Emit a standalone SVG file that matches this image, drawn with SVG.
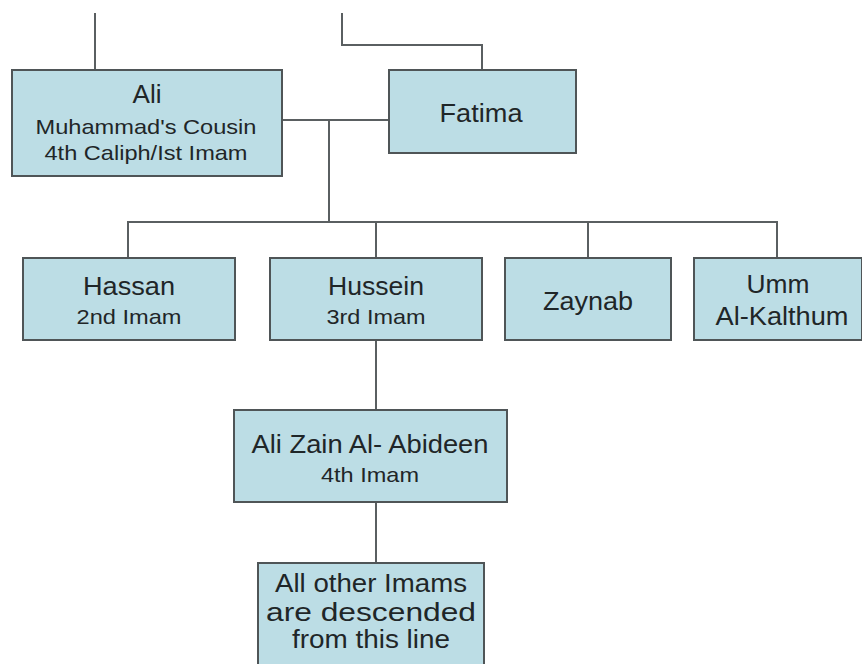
<svg xmlns="http://www.w3.org/2000/svg" width="862" height="664" viewBox="0 0 862 664">
<style>
.box{fill:#bcdde5;stroke:#4f5557;stroke-width:2}
.ln{fill:none;stroke:#5a5f61;stroke-width:2}
text{font-family:"Liberation Sans",Arial,sans-serif;fill:#1f2628;text-anchor:middle}
.t{font-size:25px}
.s{font-size:21px}
</style>
<rect width="862" height="664" fill="#ffffff"/>
<g id="connectors">
<path class="ln" d="M95 13V70"/>
<path class="ln" d="M342 13V45H482V70"/>
<path class="ln" d="M282 120H389"/>
<path class="ln" d="M329 120V222"/>
<path class="ln" d="M128 258V222H777V258"/>
<path class="ln" d="M376 222V258"/>
<path class="ln" d="M588 222V258"/>
<path class="ln" d="M376 340V410"/>
<path class="ln" d="M376 502V563"/>
</g>
<g id="ali">
<rect class="box" x="12" y="70" width="270" height="106"/>
<text class="t" x="147" y="103" textLength="29" lengthAdjust="spacingAndGlyphs">Ali</text>
<text class="s" x="146" y="134" textLength="221" lengthAdjust="spacingAndGlyphs">Muhammad's Cousin</text>
<text class="s" x="146" y="160" textLength="203" lengthAdjust="spacingAndGlyphs">4th Caliph/Ist Imam</text>
</g>
<g id="fatima">
<rect class="box" x="389" y="70" width="187" height="83"/>
<text class="t" x="481" y="122" textLength="83" lengthAdjust="spacingAndGlyphs">Fatima</text>
</g>
<g id="hassan">
<rect class="box" x="23" y="258" width="212" height="82"/>
<text class="t" x="129" y="295" textLength="92" lengthAdjust="spacingAndGlyphs">Hassan</text>
<text class="s" x="129" y="324" textLength="105" lengthAdjust="spacingAndGlyphs">2nd Imam</text>
</g>
<g id="hussein">
<rect class="box" x="270" y="258" width="212" height="82"/>
<text class="t" x="376" y="295" textLength="96" lengthAdjust="spacingAndGlyphs">Hussein</text>
<text class="s" x="376" y="324" textLength="99" lengthAdjust="spacingAndGlyphs">3rd Imam</text>
</g>
<g id="zaynab">
<rect class="box" x="505" y="258" width="166" height="82"/>
<text class="t" x="588" y="310" textLength="90" lengthAdjust="spacingAndGlyphs">Zaynab</text>
</g>
<g id="umm">
<rect class="box" x="694" y="258" width="168" height="82"/>
<text class="t" x="778" y="293" textLength="63" lengthAdjust="spacingAndGlyphs">Umm</text>
<text class="t" x="782" y="325" textLength="133" lengthAdjust="spacingAndGlyphs">Al-Kalthum</text>
</g>
<g id="zain">
<rect class="box" x="234" y="410" width="273" height="92"/>
<text class="t" x="370" y="453" textLength="237" lengthAdjust="spacingAndGlyphs">Ali Zain Al- Abideen</text>
<text class="s" x="370" y="482" textLength="98" lengthAdjust="spacingAndGlyphs">4th Imam</text>
</g>
<g id="others">
<rect class="box" x="258" y="563" width="226" height="110"/>
<text class="t" x="371" y="592" textLength="192" lengthAdjust="spacingAndGlyphs">All other Imams</text>
<text class="t" x="371" y="621" textLength="210" lengthAdjust="spacingAndGlyphs">are descended</text>
<text class="t" x="371" y="648" textLength="158" lengthAdjust="spacingAndGlyphs">from this line</text>
</g>
</svg>
